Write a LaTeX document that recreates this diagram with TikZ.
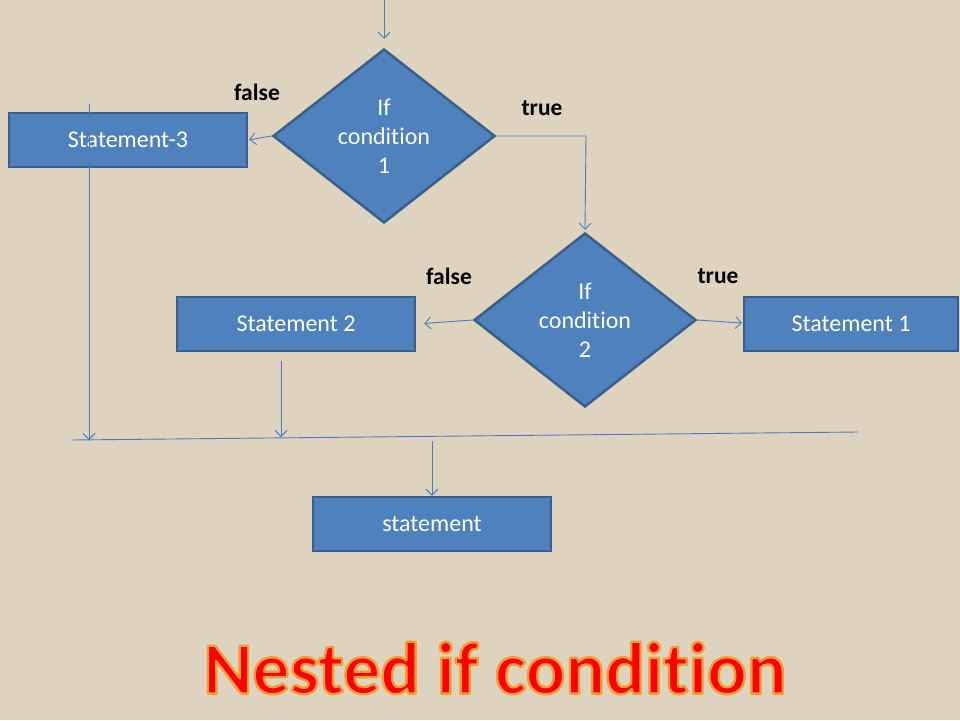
\documentclass[tikz,border=0pt]{standalone}
\usepackage{fontspec}
\setmainfont[Ligatures={NoCommon}]{Carlito}
\usetikzlibrary{shapes.geometric,arrows.meta,calc}
\definecolor{bgc}{HTML}{DDD3BF}
\definecolor{boxfill}{HTML}{4F81BD}
\definecolor{boxline}{HTML}{3A5F8C}
\definecolor{conn}{HTML}{4A7EBB}
\tikzset{
  stmtbox/.style={rectangle, fill=boxfill, draw=boxline, line width=2.5pt,
    minimum width=238pt, minimum height=54pt, inner sep=0pt,
    text=white, font=\fontsize{24}{28}\selectfont},
  decbox/.style={diamond, fill=boxfill, draw=boxline, line width=2.5pt,
    minimum width=222pt, minimum height=174pt, inner sep=0pt,
    text=white, font=\fontsize{24}{29}\selectfont, align=center},
  lbl/.style={font=\bfseries\fontsize{23.5}{27}\selectfont, text=black},
  conn/.style={draw=conn, line width=0.9pt},
  arr/.style={conn, -{Straight Barb[length=6pt,width=12pt,line width=0.9pt]}},
  titletext/.style={font=\bfseries\fontsize{74}{86}\selectfont, text=red},
}
\newcommand{\glowtext}[1]{\special{pdf:literal direct 2 Tr 2.4 w 1 j 0.95 0.62 0.2 RG}#1\special{pdf:literal direct 0 Tr}}
\begin{document}
\begin{tikzpicture}[x=1pt,y=-1pt]
\fill[bgc] (0,0) rectangle (960,720);
\useasboundingbox (0,0) rectangle (960,720);

% nodes
\node[decbox] (d1) at (384,136) {If\\condition\\1};
\node[decbox] (d2) at (585,320) {If\\condition\\2};
\node[stmtbox] (s3) at (128,140) {Statement-3};
\node[stmtbox] (s2) at (296,324) {Statement 2};
\node[stmtbox, minimum width=214pt] (s1) at (851,324) {Statement 1};
\node[stmtbox] (st) at (432,524) {statement};

% labels
\node[lbl] (f1) at (257,92) {false};
\node[lbl] (t1) at (542,108) {true};
\node[lbl] (f2) at (449,276) {false};
\node[lbl] (t2) at (718,276) {true};

% coordinates
\coordinate (top) at (384,0);
\coordinate (bend) at (586,136);
\coordinate (l3top) at (89,104);
\coordinate (l3bot) at (89,440);
\coordinate (s2a) at (281,361);
\coordinate (s2b) at (281,437);
\coordinate (mL) at (72,440);
\coordinate (mR) at (858,432);
\coordinate (mD) at (432,441);
\coordinate (d2e) at (697,320);
\coordinate (s1w) at (742,323);

% connectors
\draw[arr, shorten >=9pt] (top) -- (d1.north);
\draw[arr, shorten >=1pt] (d1.west) -- (s3.east);
\draw[arr] (d1.east) -- (bend) -- ([yshift=2pt]d2.north);
\draw[arr, shorten >=8pt] (d2.west) -- (s2.east);
\draw[arr] (d2e) -- (s1w);
\draw[arr] (l3top) -- (l3bot);
\draw[arr] (s2a) -- (s2b);
\draw[conn] (mL) -- (mR);
\draw[arr] (mD) -- (st.north);

% title
\node[titletext] (title) at (495,668) {\glowtext{Nested if condition}};
\end{tikzpicture}
\end{document}
